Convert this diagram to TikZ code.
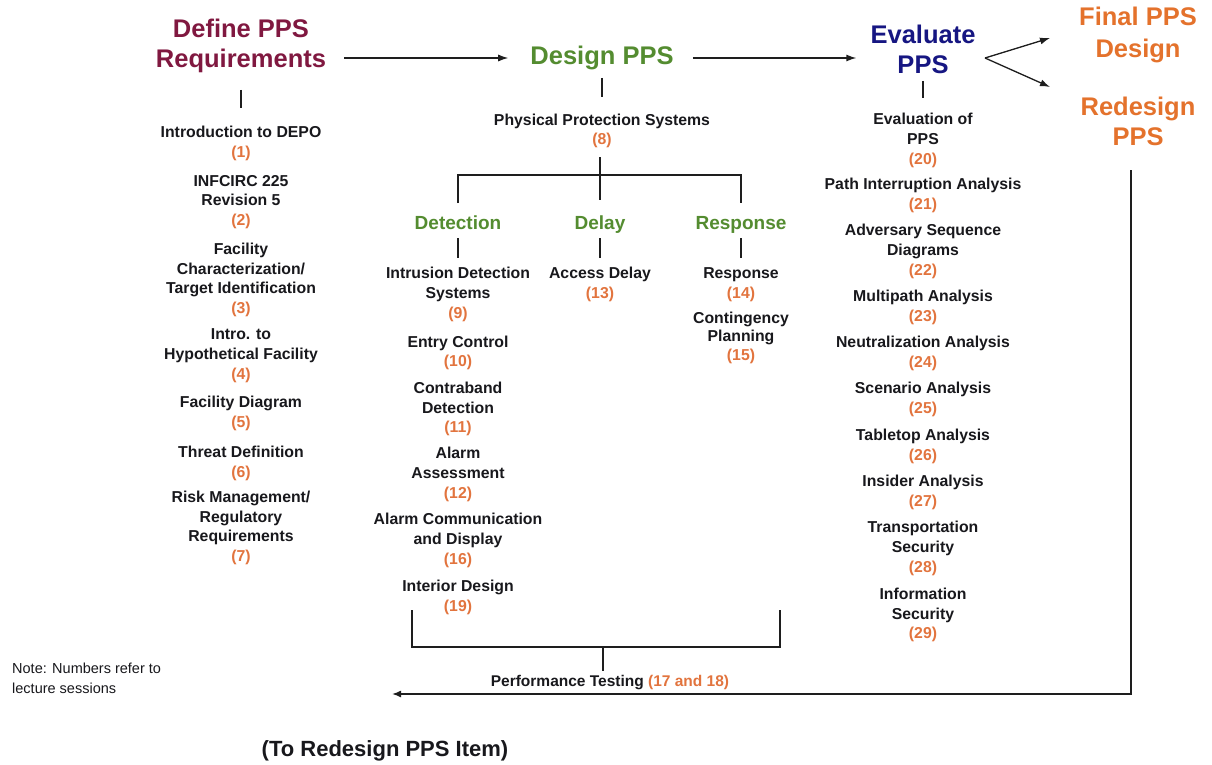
\documentclass[tikz,border=0pt]{standalone}
\usepackage{fontspec}
\setmainfont{Liberation Sans}
\usetikzlibrary{arrows.meta}
\definecolor{cDefine}{RGB}{128,24,64}
\definecolor{cDesign}{RGB}{84,140,48}
\definecolor{cEval}{RGB}{22,22,130}
\definecolor{cFinal}{RGB}{228,114,44}
\definecolor{cNum}{RGB}{226,116,62}
\definecolor{cTxt}{RGB}{24,24,28}
\definecolor{cLine}{RGB}{30,30,30}
\newcommand\pnum[1]{{\color{cNum}(#1)}}
\begin{document}
\begin{tikzpicture}[x=1pt,y=-1pt,
  head/.style={align=center,inner sep=0pt,font=\fontsize{25.5}{30}\selectfont\bfseries},
  sub/.style={inner sep=0pt,anchor=base,text=cDesign,font=\fontsize{19}{22}\selectfont\bfseries},
  item/.style={align=center,inner sep=0pt,yshift=-2pt,text=cTxt,font=\fontsize{15.8}{19.8}\selectfont\bfseries},
  note/.style={align=left,inner sep=0pt,text=cTxt,font=\fontsize{14.5}{20}\selectfont},
  conn/.style={draw=cLine,line width=1.1pt},
  arr/.style={draw=cLine,line width=1.3pt,-{Latex[length=10pt,width=7pt]}},
]
\useasboundingbox[fill=white] (0,0) rectangle (1212,765);

% ---- headers ----
\node[head,text=cDefine] (define) at (241,46) {Define PPS\\Requirements};
\node[head,text=cDesign] (design) at (602,58) {Design PPS};
\node[head,text=cEval]   (eval)   at (923,49) {Evaluate\\PPS};
\node[head,text=cFinal,font=\fontsize{25.5}{32}\selectfont\bfseries]  (final)  at (1138,35) {Final PPS\\Design};
\node[head,text=cFinal]  (redesign) at (1138,121) {Redesign\\PPS};

\draw[arr,shorten <=18pt,shorten >=22pt] (define.east |- design.center) -- (design.west);
\draw[arr,shorten <=19pt,shorten >=14pt] (design.east) -- (design.east -| eval.west);
\coordinate (fork) at (985,58);
\coordinate (finalin) at (1050,38);
\coordinate (redin) at (1050,87);
\draw[arr] (fork) -- (finalin);
\draw[arr] (fork) -- (redin);

% ---- left column ----
\node[item] (i1) at (241,141.5) {Introduction to DEPO\\\pnum{1}};
\node[item] (i2) at (241,200) {INFCIRC 225\\Revision 5\\\pnum{2}};
\node[item] (i3) at (241,278) {Facility\\Characterization/\\Target Identification\\\pnum{3}};
\node[item] (i4) at (241,354) {Intro. to\\Hypothetical Facility\\\pnum{4}};
\node[item] (i5) at (241,411.5) {Facility Diagram\\\pnum{5}};
\node[item] (i6) at (241,461.5) {Threat Definition\\\pnum{6}};
\node[item] (i7) at (241,526) {Risk Management/\\Regulatory\\Requirements\\\pnum{7}};
\draw[conn,shorten <=44pt,shorten >=35pt] (define.center) -- (i1.center);

% ---- middle column ----
\node[item] (pps) at (602,129) {Physical Protection Systems\\\pnum{8}};
\draw[conn,shorten <=20pt,shorten >=34pt] (design.center) -- (pps.center);

\node[sub] (detect) at (458,229) {Detection};
\node[sub] (delay) at (600,229) {Delay};
\node[sub] (resp) at (741,229) {Response};
\coordinate (bj) at (600,175);
\draw[conn,shorten <=26pt,shorten >=29pt] (pps.center -| delay.base) -- (delay.base);
\draw[conn,shorten <=26pt,shorten >=26pt] (detect.base) |- (bj) -| (resp.base);

\node[item] (d9)  at (458,292.5) {Intrusion Detection\\Systems\\\pnum{9}};
\node[item] (d10) at (458,351) {Entry Control\\\pnum{10}};
\node[item] (d11) at (458,407) {Contraband\\Detection\\\pnum{11}};
\node[item] (d12) at (458,472.5) {Alarm\\Assessment\\\pnum{12}};
\node[item] (d16) at (458,538.5) {Alarm Communication\\and Display\\\pnum{16}};
\node[item] (d19) at (458,595.5) {Interior Design\\\pnum{19}};
\node[item] (a13) at (600,282.5) {Access Delay\\\pnum{13}};
\node[item] (r14) at (741,282.5) {Response\\\pnum{14}};
\node[item,font=\fontsize{15.8}{18.5}\selectfont\bfseries] (r15) at (741,335.5) {Contingency\\Planning\\\pnum{15}};

\draw[conn,shorten <=9pt,shorten >=36.5pt] (detect.base) -- (d9.center);
\draw[conn,shorten <=9pt,shorten >=26.5pt] (delay.base) -- (a13.center);
\draw[conn,line width=2.2pt,shorten <=9pt,shorten >=26.5pt] (resp.base) -- (r14.center);

% bottom bracket
\coordinate (bl) at (412,610);
\coordinate (br) at (780,610);
\coordinate (bb) at (603,647);
\draw[conn] (bl) |- (bb) -| (br);
\node[item,yshift=-1pt,font=\fontsize{15.5}{19}\selectfont\bfseries] (perf) at (610,680) {Performance Testing \pnum{17 and 18}};
\draw[conn,shorten >=5pt] (bb) -- (bb |- perf.north);

% ---- right column ----
\node[item] (e20) at (923,138.5) {Evaluation of\\PPS\\\pnum{20}};
\node[item] (e21) at (923,193.5) {Path Interruption Analysis\\\pnum{21}};
\node[item] (e22) at (923,249.5) {Adversary Sequence\\Diagrams\\\pnum{22}};
\node[item] (e23) at (923,305.5) {Multipath Analysis\\\pnum{23}};
\node[item] (e24) at (923,351.5) {Neutralization Analysis\\\pnum{24}};
\node[item] (e25) at (923,397.5) {Scenario Analysis\\\pnum{25}};
\node[item] (e26) at (923,444.5) {Tabletop Analysis\\\pnum{26}};
\node[item] (e27) at (923,490.5) {Insider Analysis\\\pnum{27}};
\node[item] (e28) at (923,546.5) {Transportation\\Security\\\pnum{28}};
\node[item] (e29) at (923,613) {Information\\Security\\\pnum{29}};
\draw[conn,shorten <=32pt,shorten >=42.5pt] (eval.center) -- (e20.center);

% ---- return arrow ----
\coordinate (rtop) at (1131,170);
\coordinate (retend) at (392,694);
\draw[draw=cLine,line width=1.5pt,-{Latex[length=9pt,width=7pt]}] (rtop) |- (retend);

% ---- notes ----
\node[note,anchor=west] (note) at (12,678) {Note: Numbers refer to\\lecture sessions};
\node[inner sep=0pt,text=cTxt,font=\fontsize{22}{26}\selectfont\bfseries] (back) at (385,751) {(To Redesign PPS Item)};
\end{tikzpicture}
\end{document}
